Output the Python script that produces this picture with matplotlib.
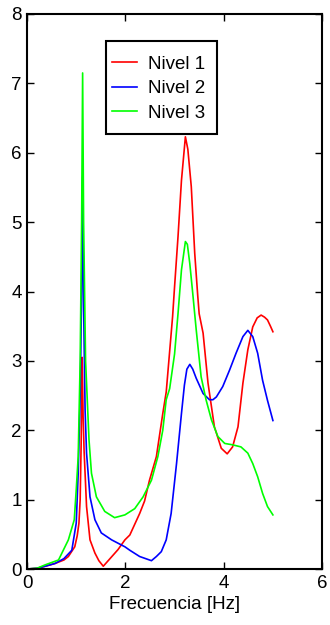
import matplotlib
matplotlib.use("Agg")
import matplotlib.pyplot as plt
from matplotlib.patches import Rectangle

plt.rcParams['font.family'] = ['Liberation Sans', 'DejaVu Sans']

# Nivel 1 (red)
x1 = [0.0, 0.2, 0.37, 0.57, 0.75, 0.84, 0.97, 1.02, 1.055, 1.08, 1.10, 1.12, 1.14, 1.16, 1.18,
      1.21, 1.28, 1.38, 1.46, 1.55, 1.7, 1.85, 1.99, 2.09, 2.29, 2.39, 2.49, 2.63, 2.76, 2.83,
      2.96, 3.0, 3.07, 3.14, 3.22, 3.27, 3.34, 3.41, 3.47, 3.50, 3.58, 3.68, 3.81, 3.95, 4.07,
      4.18, 4.29, 4.39, 4.49, 4.59, 4.68, 4.76, 4.83, 4.89, 4.95, 5.0]
y1 = [0.0, 0.01, 0.04, 0.08, 0.13, 0.18, 0.32, 0.48, 0.66, 1.0, 1.8, 3.05, 2.2, 1.7, 1.38,
      0.9, 0.42, 0.23, 0.12, 0.04, 0.16, 0.28, 0.42, 0.49, 0.80, 0.98, 1.28, 1.62, 2.24, 2.55,
      3.64, 4.07, 4.79, 5.6, 6.23, 6.05, 5.51, 4.55, 3.95, 3.68, 3.40, 2.68, 2.05, 1.74, 1.66,
      1.76, 2.05, 2.68, 3.16, 3.49, 3.62, 3.66, 3.63, 3.59, 3.50, 3.42]

# Nivel 2 (blue)
x2 = [0.0, 0.2, 0.37, 0.57, 0.75, 0.91, 1.0, 1.04, 1.08, 1.11, 1.13, 1.15, 1.18, 1.21, 1.28,
      1.38, 1.51, 1.72, 1.99, 2.09, 2.29, 2.41, 2.53, 2.63, 2.73, 2.83, 2.93, 3.04, 3.14, 3.2,
      3.25, 3.31, 3.37, 3.44, 3.58, 3.71, 3.78, 3.85, 3.98, 4.12, 4.25, 4.39, 4.49, 4.59, 4.69,
      4.79, 4.89, 5.0]
y2 = [0.0, 0.01, 0.04, 0.08, 0.15, 0.27, 0.66, 1.38, 2.5, 4.0, 5.65, 3.8, 2.3, 1.67, 1.04,
      0.71, 0.52, 0.42, 0.32, 0.27, 0.18, 0.15, 0.12, 0.18, 0.25, 0.42, 0.80, 1.52, 2.24, 2.65,
      2.88, 2.95, 2.88, 2.75, 2.53, 2.44, 2.44, 2.48, 2.63, 2.87, 3.11, 3.35, 3.44, 3.35, 3.11,
      2.72, 2.43, 2.14]

# Nivel 3 (green)
x3 = [0.0, 0.2, 0.37, 0.64, 0.84, 0.96, 1.0, 1.04, 1.08, 1.11, 1.13, 1.15, 1.19, 1.26, 1.31,
      1.41, 1.58, 1.78, 1.99, 2.19, 2.36, 2.53, 2.66, 2.76, 2.83, 2.90, 3.0, 3.07, 3.14, 3.22,
      3.26, 3.31, 3.37, 3.44, 3.54, 3.64, 3.75, 3.88, 4.02, 4.18, 4.35, 4.49, 4.59, 4.69, 4.79,
      4.89, 5.0]
y3 = [0.0, 0.01, 0.06, 0.13, 0.42, 0.71, 1.14, 1.62, 3.0, 5.0, 7.15, 5.0, 3.0, 1.86, 1.38,
      1.04, 0.83, 0.74, 0.78, 0.87, 1.04, 1.28, 1.62, 2.0, 2.44, 2.60, 3.10, 3.68, 4.31, 4.72,
      4.68, 4.40, 3.97, 3.45, 2.77, 2.44, 2.15, 1.91, 1.81, 1.79, 1.76, 1.67, 1.52, 1.33, 1.09,
      0.90, 0.78]

labels = ['Nivel 1', 'Nivel 2', 'Nivel 3']
colors = ['#ff0000', '#0000ff', '#00ff00']

xticks = [0, 2, 4, 6]
yticks = [0, 1, 2, 3, 4, 5, 6, 7, 8]

fig = plt.figure(figsize=(3.3, 6.25), dpi=100)
ax = fig.add_axes([0.082, 0.0896, 0.894, 0.888])

for xs, ys, lab, c in zip([x1, x2, x3], [y1, y2, y3], labels, colors):
    ax.plot(xs, ys, color=c, lw=1.2, label=lab)

ax.set_xlim(0, 6)
ax.set_ylim(0, 8)
ax.set_xticks(xticks)
ax.set_yticks(yticks)
ax.tick_params(direction='in', length=5, width=1, labelsize=13.5, top=True, right=True,
               labeltop=False, labelright=False, pad=4)
for s in ax.spines.values():
    s.set_linewidth(1.5)
ax.set_xlabel('Frecuencia [Hz]', fontsize=13.5, labelpad=3)

# legend frame drawn as a box in axes coordinates
bx0, bx1, by0, by1 = 0.268, 0.644, 0.784, 0.951
ax.add_patch(Rectangle((bx0, by0), bx1 - bx0, by1 - by0, transform=ax.transAxes,
                       facecolor='white', edgecolor='black', lw=1.5, zorder=4))
leg = ax.legend(loc='center', bbox_to_anchor=((bx0 + bx1) / 2 - 0.01, (by0 + by1) / 2 - 0.002),
                fontsize=13.5, frameon=False, borderaxespad=0, borderpad=0,
                handlelength=1.3, handletextpad=0.6, labelspacing=0.39)
leg.set_zorder(5)

fig.savefig('out.png', dpi=100)
